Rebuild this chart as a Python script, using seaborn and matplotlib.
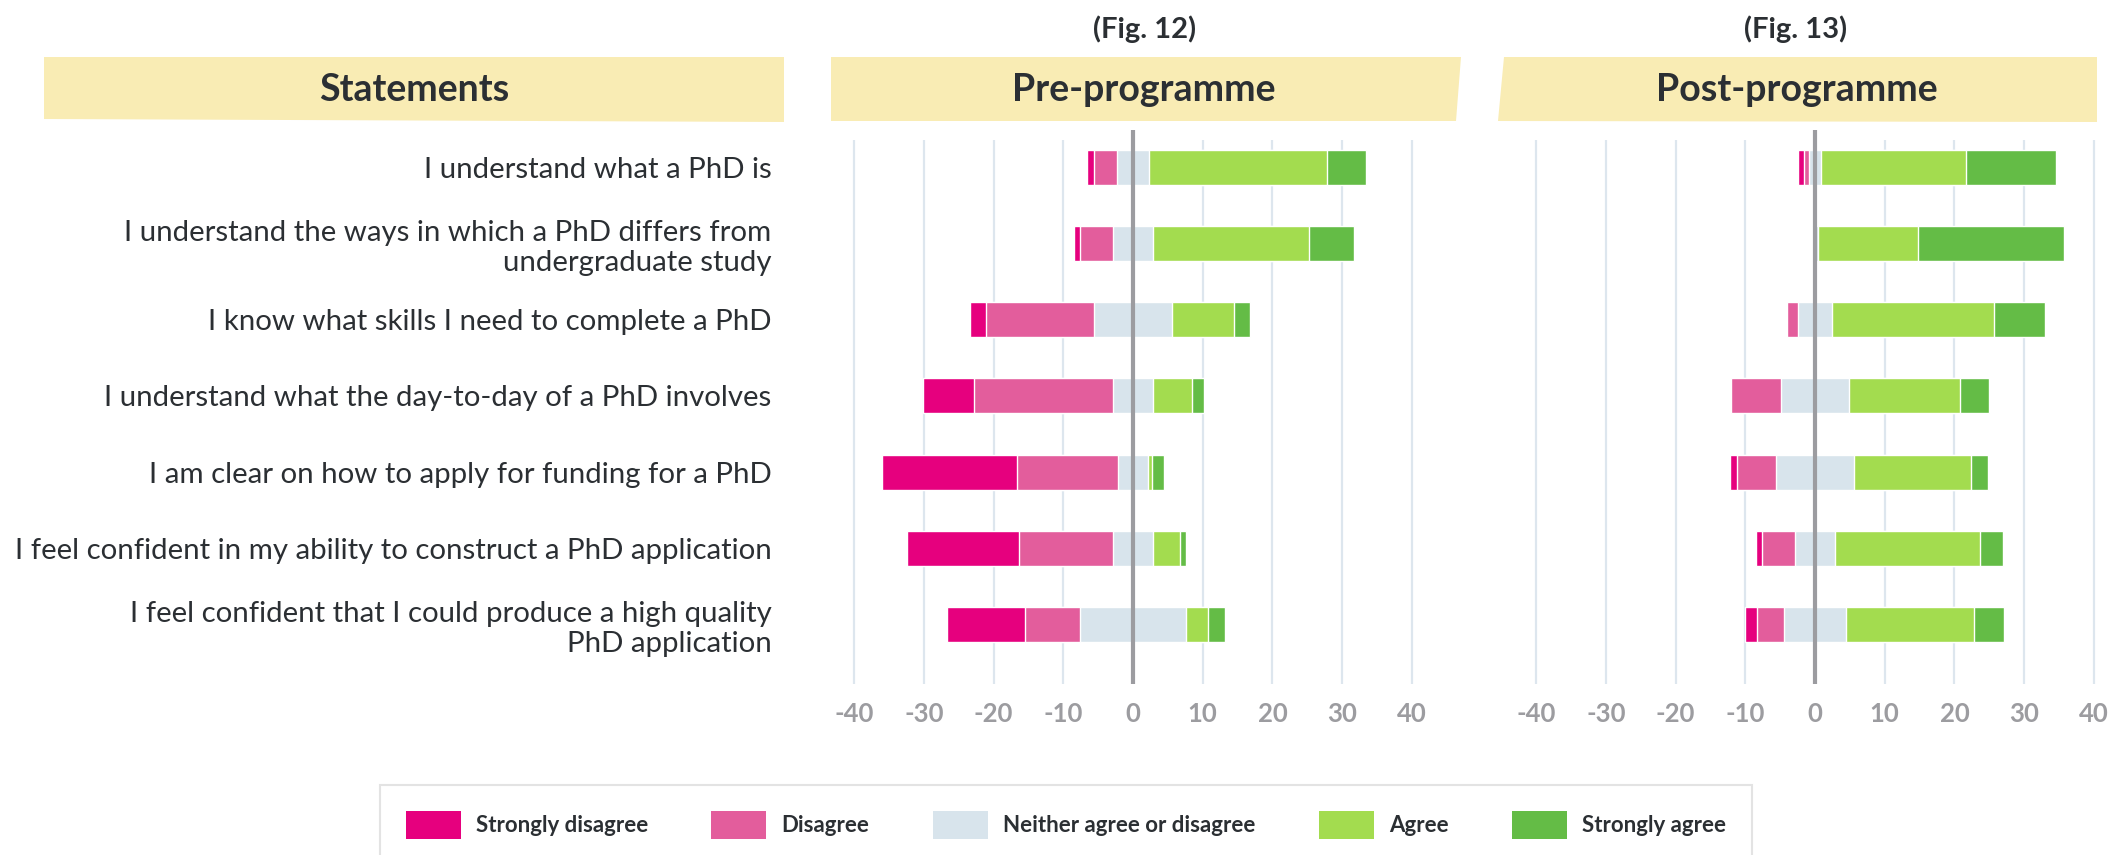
import matplotlib
matplotlib.use('Agg')
import pandas as pd
import matplotlib.pyplot as plt
import seaborn as sns
from matplotlib.patches import Polygon, Patch

sns.set_style('white')
plt.rcParams['font.family'] = ['Lato', 'DejaVu Sans']
plt.rcParams['axes.unicode_minus'] = False

# Statements (rows, top to bottom)
statements = [
    'I understand what a PhD is',
    'I understand the ways in which a PhD differs from\nundergraduate study',
    'I know what skills I need to complete a PhD',
    'I understand what the day-to-day of a PhD involves',
    'I am clear on how to apply for funding for a PhD',
    'I feel confident in my ability to construct a PhD application',
    'I feel confident that I could produce a high quality\nPhD application',
]
levels = ['Strongly disagree', 'Disagree', 'Neither agree or disagree', 'Agree', 'Strongly agree']
level_colors = ['#e6007e', '#e35d9c', '#d8e4ec', '#a3dc4f', '#64bc46']
ticks = [-40, -30, -20, -10, 0, 10, 20, 30, 40]

# Pre-programme (Fig. 12)
pre_strongly_disagree = [0.9, 0.9, 2.4, 7.3, 19.4, 16.1, 11.2]
pre_disagree = [3.3, 4.7, 15.4, 20.0, 14.5, 13.5, 7.9]
pre_neutral = [4.7, 5.7, 11.3, 5.7, 4.2, 5.6, 15.2]
pre_agree = [25.5, 22.4, 8.8, 5.6, 0.6, 3.9, 3.2]
pre_strongly_agree = [5.6, 6.5, 2.4, 1.7, 1.7, 0.9, 2.4]

# Post-programme (Fig. 13)
post_strongly_disagree = [0.85, 0.0, 0.0, 0.0, 0.9, 0.85, 1.75]
post_disagree = [0.75, 0.0, 1.6, 7.2, 5.6, 4.7, 3.8]
post_neutral = [1.7, 0.85, 4.9, 9.75, 11.3, 5.75, 8.9]
post_agree = [20.8, 14.3, 23.2, 15.9, 16.8, 20.8, 18.4]
post_strongly_agree = [12.9, 21.0, 7.3, 4.2, 2.4, 3.3, 4.2]

pre = pd.DataFrame({'statement': statements, 'sd': pre_strongly_disagree, 'd': pre_disagree,
                    'n': pre_neutral, 'a': pre_agree, 'sa': pre_strongly_agree})
post = pd.DataFrame({'statement': statements, 'sd': post_strongly_disagree, 'd': post_disagree,
                     'n': post_neutral, 'a': post_agree, 'sa': post_strongly_agree})

W, H = 2116, 855
TEXT = '#2b2f33'
HEAD_BG = '#f9ecb4'


def fx(px):
    return px / W


def fy(py):
    return 1 - py / H


def draw_panel(ax, df, xlim):
    half = df['n'] / 2
    # outer segments first, inner ones painted on top -> diverging stack
    layers = [
        (-(half + df['d'] + df['sd']), level_colors[0]),
        (-(half + df['d']), level_colors[1]),
        (-half, level_colors[2]),
        (half + df['a'] + df['sa'], level_colors[4]),
        (half + df['a'], level_colors[3]),
        (half, level_colors[2]),
    ]
    for vals, col in layers:
        sns.barplot(x=vals, y=df['statement'], orient='h', color=col, saturation=1,
                    width=0.46, errorbar=None, ax=ax, zorder=2)
    grid = [t for t in ticks if t != 0]
    ax.vlines(grid, -0.36, 6.8, color='#dde6ee', lw=1.6, zorder=0)
    ax.vlines(0, -0.49, 6.8, color='#9c9ca0', lw=3, zorder=3)
    ax.set_xlim(*xlim)
    ax.set_ylim(6.78, -0.49)
    ax.set_xticks(ticks)
    ax.set_xticklabels([str(t) for t in ticks])
    ax.tick_params(axis='x', length=0, pad=13, labelsize=18.5, labelcolor='#9c9ca0')
    for lbl in ax.get_xticklabels():
        lbl.set_fontweight('bold')
    ax.set_xlabel('')
    ax.set_ylabel('')
    sns.despine(ax=ax, left=True, bottom=True)


fig = plt.figure(figsize=(W / 100, H / 100), dpi=100)

ax_pre = fig.add_axes([fx(830), fy(684), fx(1462) - fx(830), (684 - 130) / H])
ax_post = fig.add_axes([fx(1500), fy(684), fx(2116) - fx(1500), (684 - 130) / H])

draw_panel(ax_pre, pre, ((830 - 1133) / 6.97, (1462 - 1133) / 6.97))
draw_panel(ax_post, post, ((1500 - 1815) / 6.97, (2116 - 1815) / 6.97))

ax_pre.tick_params(axis='y', length=0, pad=42, labelsize=21.2, labelcolor=TEXT)
ax_post.set_yticklabels([])
ax_post.tick_params(axis='y', length=0)

# header boxes (slightly hand-drawn shapes)
boxes = [
    [(44, 57), (784, 57), (784, 122), (44, 119)],
    [(831, 57), (1461, 57), (1456, 121), (831, 121)],
    [(1504, 57), (2097, 57), (2097, 122), (1498, 121)],
]
for pts in boxes:
    fig.patches.append(Polygon([(fx(x), fy(y)) for x, y in pts], closed=True,
                               transform=fig.transFigure, facecolor=HEAD_BG,
                               edgecolor='none', zorder=0))

for x, label in [(414, 'Statements'), (1144, 'Pre-programme'), (1797, 'Post-programme')]:
    fig.text(fx(x), fy(90), label, ha='center', va='center', fontsize=27,
             fontweight='bold', color=TEXT)
fig.text(fx(1145), fy(29), '(Fig. 12)', ha='center', va='center', fontsize=21,
         fontweight='bold', color=TEXT)
fig.text(fx(1796), fy(29), '(Fig. 13)', ha='center', va='center', fontsize=21,
         fontweight='bold', color=TEXT)

# legend
handles = [Patch(facecolor=c, edgecolor='none', label=l) for l, c in zip(levels, level_colors)]
leg = fig.legend(handles=handles, loc='upper left', bbox_to_anchor=(fx(380), fy(785)),
                 ncol=5, frameon=True, fancybox=False, edgecolor='#dddddd',
                 prop={'size': 16, 'weight': 'bold'}, handlelength=2.48, handleheight=1.58,
                 handletextpad=0.68, columnspacing=2.85, borderpad=1.15, borderaxespad=0)
leg.get_frame().set_linewidth(1.5)
for t in leg.get_texts():
    t.set_color(TEXT)

fig.savefig('out.png', dpi=100)
